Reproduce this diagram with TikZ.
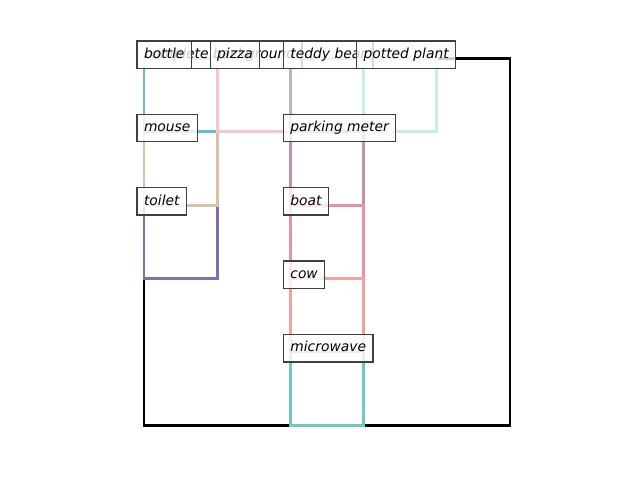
\documentclass[tikz,border=0pt]{standalone}
\usepackage{fontspec}
\setmainfont{DejaVu Sans}
\definecolor{cbottle}{HTML}{6CB8DC}
\definecolor{cpizza}{HTML}{F8C4D4}
\definecolor{cteddy}{HTML}{B0B8C8}
\definecolor{cplant}{HTML}{C8F0E0}
\definecolor{cmouse}{HTML}{D8C2A4}
\definecolor{ctoilet}{HTML}{8070B0}
\definecolor{cmeter}{HTML}{C090B0}
\definecolor{cboat}{HTML}{E890A8}
\definecolor{ccow}{HTML}{F4A0A0}
\definecolor{cmicro}{HTML}{70C8C0}
\definecolor{cbox}{HTML}{404040}
\tikzset{
  lbl/.style={draw=cbox, line width=1pt, fill=white, fill opacity=0.8, text opacity=1,
    inner sep=5pt, outer sep=0pt, text height=7.6pt, text depth=2.1pt,
    anchor=base west, xshift=-5pt, font=\itshape\fontsize{10pt}{12pt}\selectfont},
  edge/.style={line width=1.9pt, line join=miter}
}
\begin{document}
\begin{tikzpicture}[x=0.01in, y=-0.01in]
\useasboundingbox (0,0) rectangle (640,480);
% grid coordinates
\foreach \i in {0,...,5}{
  \foreach \j in {0,...,5}{
    \coordinate (g\i\j) at ({144+73.2*\i},{58.4+73.4*\j});
  }
}
% rectangles
\draw[line width=2.1pt] (g00) rectangle (g55);
\draw[edge, ctoilet] (g02) rectangle (g13);
\draw[edge, cmouse] (g01) rectangle (g12);
\draw[edge, cbottle] (g00) rectangle (g11);
\draw[edge, cpizza] (g10) rectangle (g21);
\draw[edge, cteddy] (g20) rectangle (g31);
\draw[edge, cplant] (g30) rectangle (g41);
\draw[edge, cmeter] (g21) rectangle (g32);
\draw[edge, cboat] (g22) rectangle (g33);
\draw[edge, ccow] (g23) rectangle (g34);
\draw[edge, cmicro] (g24) rectangle (g35);
% labels
\node[lbl] (bg) at (g00) {complete background};
\node[lbl] (bottle) at (g00) {bottle};
\node[lbl] (pizza) at (g10) {pizza};
\node[lbl] (teddy) at (g20) {teddy bear};
\node[lbl] (plant) at (g30) {potted plant};
\node[lbl] (mouse) at (g01) {mouse};
\node[lbl] (meter) at (g21) {parking meter};
\node[lbl] (toilet) at (g02) {toilet};
\node[lbl] (boat) at (g22) {boat};
\node[lbl] (cow) at (g23) {cow};
\node[lbl] (micro) at (g24) {microwave};
\end{tikzpicture}
\end{document}
